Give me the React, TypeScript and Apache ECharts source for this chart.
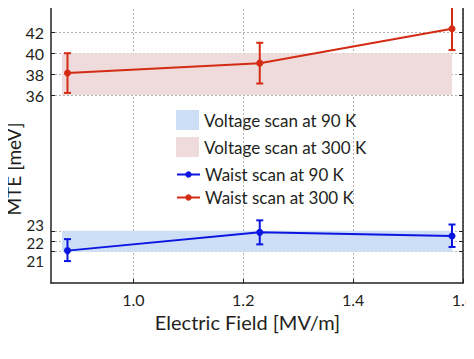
import React, { useEffect, useRef } from "react";
import * as echarts from "echarts";

// ---- data ----
const fieldValues = [0.88, 1.23, 1.58];
const waist90 = [21.1, 22.85, 22.5];
const waist90Low = [20.1, 21.7, 21.45];
const waist90High = [22.2, 24.0, 23.6];
const waist300 = [38.1, 39.05, 42.35];
const waist300Low = [36.2, 37.1, 40.3];
const waist300High = [40.0, 41.0, 44.5];
const bandX = [0.87, 1.58];
const voltage90Band = [21, 23];
const voltage300Band = [36, 40];
const xTicks = [1.0, 1.2, 1.4, 1.6];
const yTicks = [21, 22, 23, 36, 38, 40, 42];

const BLUE = "#0b16e0";
const RED = "#d42b14";
const BLUE_BAND = "#cddff6";
const RED_BAND = "#efdbdc";
const TEXT = "#231f20";
const FONT = "Lato";

function errorSeries(id: string, low: number[], high: number[], color: string) {
  return {
    type: "custom",
    id,
    name: id,
    data: fieldValues.map((x, i) => [x, low[i], high[i]]),
    z: 3,
    renderItem: (params: any, api: any) => {
      const x = api.value(0);
      const lo = api.coord([x, api.value(1)]);
      const hi = api.coord([x, api.value(2)]);
      const w = 3.5;
      const st = { stroke: color, lineWidth: 2 };
      return {
        type: "group",
        children: [
          { type: "line", shape: { x1: lo[0], y1: lo[1], x2: hi[0], y2: hi[1] }, style: st },
          { type: "line", shape: { x1: lo[0] - w, y1: lo[1], x2: lo[0] + w, y2: lo[1] }, style: st },
          { type: "line", shape: { x1: hi[0] - w, y1: hi[1], x2: hi[0] + w, y2: hi[1] }, style: st },
        ],
      };
    },
  };
}

export default function App() {
  const ref = useRef<HTMLDivElement>(null);
  useEffect(() => {
    if (!ref.current) return;
    const chart = echarts.init(ref.current, null, { renderer: "svg" });
    const labelRich = {
      a: { fontFamily: FONT, fontSize: 15, color: TEXT, padding: [0, 0, 12, 0] },
      b: { fontFamily: FONT, fontSize: 15, color: TEXT, padding: [3, 0, 0, 0] },
      c: { fontFamily: FONT, fontSize: 15, color: TEXT, padding: [19, 0, 0, 0] },
    };
    const axisLine = { show: true, lineStyle: { color: "#222", width: 1.5 } };
    const split = { show: true, lineStyle: { color: "#b4b4b4", type: [2, 2], width: 1 } };
    chart.setOption({
      animation: false,
      textStyle: { fontFamily: FONT, color: TEXT },
      grid: { left: 51, right: 11, top: 1, bottom: 76, containLabel: false, outerBoundsMode: "none" },
      graphic: [
        {
          type: "text",
          x: 13,
          y: 169,
          rotation: Math.PI / 2,
          style: {
            text: "MTE [meV]",
            fontFamily: FONT,
            fontSize: 19,
            fill: TEXT,
            align: "center",
            verticalAlign: "middle",
          },
        },
      ],
      legend: [
        {
          orient: "vertical",
          left: 176,
          top: 110,
          padding: 0,
          itemWidth: 23,
          itemHeight: 20,
          itemGap: 7,
          textStyle: { fontFamily: FONT, fontSize: 17, color: TEXT },
          data: [
            { name: "Voltage scan at 90 K", icon: "rect" },
            { name: "Voltage scan at 300 K", icon: "rect" },
          ],
        },
        {
          orient: "vertical",
          left: 176,
          top: 166,
          padding: 0,
          itemWidth: 23,
          itemHeight: 8,
          itemGap: 6,
          textStyle: { fontFamily: FONT, fontSize: 17, color: TEXT },
          data: ["Waist scan at 90 K", "Waist scan at 300 K"],
        },
      ],
      xAxis: [
        {
          type: "value",
          min: 0.85,
          max: 1.6,
          position: "bottom",
          axisLine,
          axisTick: { show: true, inside: true, length: 4, customValues: xTicks, lineStyle: { color: "#222" } },
          axisLabel: {
            customValues: xTicks,
            formatter: (v: number) => v.toFixed(1),
            fontFamily: FONT,
            fontSize: 16,
            color: TEXT,
            margin: 8,
          },
          splitLine: split,
          name: "Electric Field [MV/m]",
          nameLocation: "middle",
          nameGap: 28,
          nameTextStyle: { fontFamily: FONT, fontSize: 20, color: TEXT, padding: [0, 19, 0, 0] },
        },
        {
          type: "value",
          min: 0.85,
          max: 1.6,
          position: "top",
          axisLine,
          axisTick: { show: true, inside: true, length: 4, customValues: xTicks, lineStyle: { color: "#222" } },
          axisLabel: { show: false },
          splitLine: { show: false },
        },
      ],
      yAxis: [
        {
          type: "value",
          min: 18,
          max: 45,
          position: "left",
          axisLine,
          axisTick: { show: true, inside: true, length: 4, customValues: yTicks, lineStyle: { color: "#222" } },
          axisLabel: {
            customValues: yTicks,
            fontFamily: FONT,
            fontSize: 16,
            color: TEXT,
            margin: 7,
            formatter: (v: number) =>
              v === 23 ? "{a|23}" : v === 22 ? "{b|22}" : v === 21 ? "{c|21}" : String(v),
            rich: labelRich,
          },
          splitLine: split,
        },
        {
          type: "value",
          min: 18,
          max: 45,
          position: "right",
          axisLine,
          axisTick: { show: true, inside: true, length: 4, customValues: yTicks, lineStyle: { color: "#222" } },
          axisLabel: { show: false },
          splitLine: { show: false },
        },
      ],
      series: [
        {
          type: "line",
          name: "Voltage scan at 90 K",
          data: [],
          itemStyle: { color: BLUE_BAND },
          markArea: {
            silent: true,
            itemStyle: { color: BLUE_BAND, opacity: 1 },
            data: [[{ coord: [bandX[0], voltage90Band[0]] }, { coord: [bandX[1], voltage90Band[1]] }]],
          },
          z: 1,
        },
        {
          type: "line",
          name: "Voltage scan at 300 K",
          data: [],
          itemStyle: { color: RED_BAND },
          markArea: {
            silent: true,
            itemStyle: { color: RED_BAND, opacity: 1 },
            data: [[{ coord: [bandX[0], voltage300Band[0]] }, { coord: [bandX[1], voltage300Band[1]] }]],
          },
          z: 1,
        },
        {
          type: "line",
          name: "Waist scan at 90 K",
          data: fieldValues.map((x, i) => [x, waist90[i]]),
          symbol: "circle",
          symbolSize: 7,
          itemStyle: { color: BLUE },
          lineStyle: { color: BLUE, width: 2 },
          z: 4,
        },
        {
          type: "line",
          name: "Waist scan at 300 K",
          data: fieldValues.map((x, i) => [x, waist300[i]]),
          symbol: "circle",
          symbolSize: 7,
          itemStyle: { color: RED },
          lineStyle: { color: RED, width: 2 },
          z: 4,
        },
        errorSeries("err90", waist90Low, waist90High, BLUE),
        errorSeries("err300", waist300Low, waist300High, RED),
      ],
    });
    return () => chart.dispose();
  }, []);
  return <div ref={ref} style={{ width: 474, height: 359, margin: -8 }} />;
}
